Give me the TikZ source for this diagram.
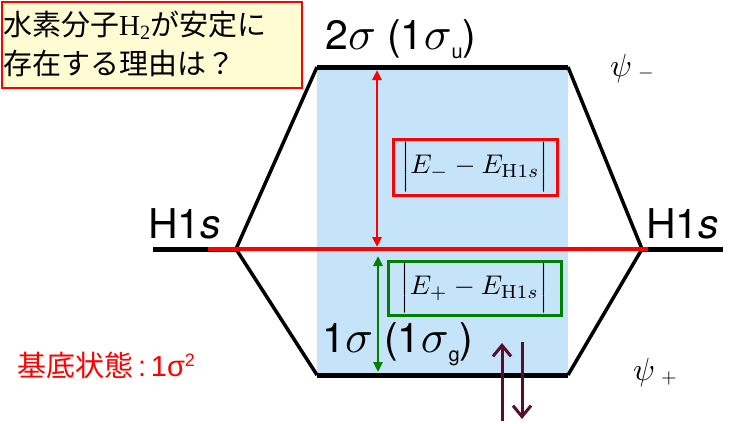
\documentclass[tikz,border=0pt]{standalone}
\usepackage{fontspec}
\usepackage{graphicx}
\setsansfont{TeX Gyre Heros}
\newfontfamily\cjkfont{Noto Sans CJK JP}
\newfontfamily\tmsfont{Liberation Serif}
\newfontfamily\arlfont{Liberation Sans}
\usetikzlibrary{arrows.meta}
\definecolor{bgblue}{RGB}{197,228,250}
\definecolor{qyellow}{RGB}{255,251,210}
\definecolor{dgreen}{RGB}{0,128,0}
\definecolor{spincol}{RGB}{85,15,40}
\newcommand{\mysig}{\scalebox{4.6}{\normalsize$\sigma$}}
\newcommand{\mypsi}{\scalebox{3.2}{\normalsize$\psi$}}
\begin{document}
\begin{tikzpicture}[x=1pt,y=-1pt,
  >={Triangle[length=10pt,width=9pt]},
  level/.style={line width=5pt},
  slant/.style={line width=3.5pt},
  lbl/.style={inner sep=0pt, anchor=base west, font=\sffamily\fontsize{41}{41}\selectfont},
  ebox/.style={line width=3pt, inner sep=0pt, font=\normalsize},
  spinarrow/.style={draw=spincol, line width=3pt, -{Straight Barb[length=11pt,width=18pt]}},
  psilbl/.style={inner sep=0pt, anchor=base west, font=\normalsize}
]
\useasboundingbox (0,0) rectangle (736,423);
% blue band
\fill[bgblue] (317,67) rectangle (568,375);
% corners
\coordinate (TL) at (317,67);
\coordinate (TR) at (568,67);
\coordinate (BL) at (317,375);
\coordinate (BR) at (568,375);
\coordinate (ML) at (236,249);
\coordinate (MR) at (642,249);
\coordinate (LL) at (153,249);
\coordinate (RR) at (723,249);
\coordinate (RL1) at (208,249);
\coordinate (RL2) at (648,249);
% slants
\draw[slant] (TL) -- (ML) -- (BL);
\draw[slant] (TR) -- (MR) -- (BR);
% levels
\draw[level] (TL) -- (TR);
\draw[level] (BL) -- (BR);
\draw[level] (LL) -- (ML);
\draw[level] (MR) -- (RR);
% red reference line
\draw[red, line width=3.5pt] (RL1) -- (RL2);
% energy arrows
\coordinate (ra1) at (377,70);
\coordinate (ra2) at (377,247);
\coordinate (ga1) at (378,256);
\coordinate (ga2) at (378,372);
\draw[red, line width=2.5pt, <->] (ra1) -- (ra2);
\draw[dgreen, line width=2.5pt, <->] (ga1) -- (ga2);
% energy boxes
\node[ebox, draw=red, minimum width=164pt, minimum height=56pt] (em) at (475,167)
  {\scalebox{2.7}{$\Big|E_{-}-E_{\mathrm{H1}s}\Big|$}};
\node[ebox, draw=dgreen, minimum width=173pt, minimum height=54pt] (ep) at (474.5,288)
  {\scalebox{2.7}{$\Big|E_{+}-E_{\mathrm{H1}s}\Big|$}};
% labels
\node[lbl] (h1) at (148,238) {H1\textit{s}};
\node[lbl] (h2) at (646,238) {H1\textit{s}};
\node[lbl] (s2) at (325,49) {2\mysig\ (1\mysig\raisebox{-9pt}{\fontsize{20}{20}\selectfont u})};
\node[lbl] (s1) at (322,352) {1\mysig\ (1\mysig\raisebox{-9pt}{\fontsize{20}{20}\selectfont g})};
\node[psilbl] (pm) at (610,76) {\mypsi\hspace{6pt}\raisebox{-2pt}{\scalebox{2}{$-$}}};
\node[psilbl] (pp) at (633,380) {\mypsi\hspace{6pt}\raisebox{-3pt}{\scalebox{2}{$+$}}};
% spins
\coordinate (su1) at (502,421);
\coordinate (su2) at (502,343);
\coordinate (sd1) at (522,342);
\coordinate (sd2) at (522,419);
\draw[spinarrow] (su1) -- (su2);
\draw[spinarrow] (sd1) -- (sd2);
% question box
\node[draw=red, fill=qyellow, line width=2pt, anchor=north west, minimum width=300pt, minimum height=86pt, inner sep=0pt] (q) at (1,1) {};
\node[inner sep=0pt, anchor=base west, font=\cjkfont\fontsize{29}{29}\selectfont] (q1) at (3,35)
  {水素分子{\tmsfont\fontsize{29}{29}\selectfont H\textsubscript{2}}が安定に};
\node[inner sep=0pt, anchor=base west, font=\cjkfont\fontsize{29}{29}\selectfont] (q2) at (3,74)
  {存在する理由は？};
% ground state
\node[inner sep=0pt, anchor=base west, text=red, font=\fontsize{29}{29}\selectfont] (gs) at (17,376)
  {{\cjkfont 基底状態}{\arlfont\,:\,1σ\textsuperscript{\fontsize{18}{18}\selectfont 2}}};
\end{tikzpicture}
\end{document}
